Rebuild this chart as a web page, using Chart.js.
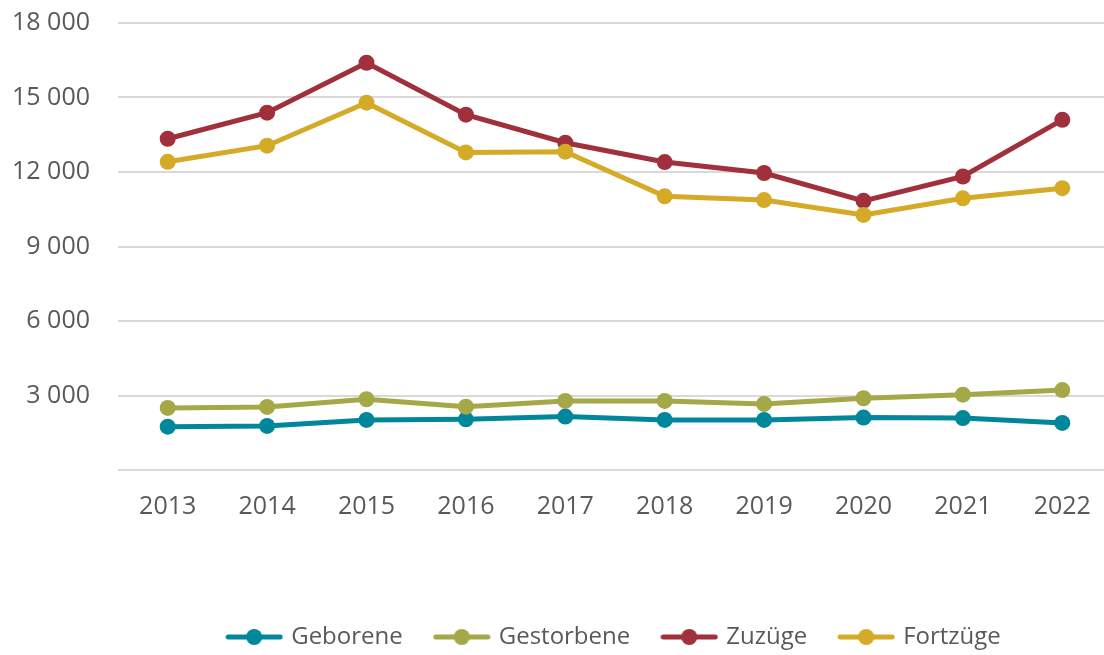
<!DOCTYPE html>
<html><head><meta charset="utf-8">
<script src="https://cdn.jsdelivr.net/npm/chart.js@4"></script>
<style>
html,body{margin:0;padding:0;background:#fff;overflow:hidden;width:1104px;height:655px;}
#wrap{width:1104px;height:655px;position:relative;overflow:hidden;}
</style></head>
<body><div id="wrap"><canvas id="c" width="1112" height="655"></canvas></div>
<script>
const years = ['2013','2014','2015','2016','2017','2018','2019','2020','2021','2022'];
const geborene   = [1745, 1775, 2015, 2040, 2150, 2015, 2015, 2110, 2090, 1895];
const gestorbene = [2500, 2540, 2850, 2550, 2780, 2780, 2660, 2890, 3035, 3220];
const zuzuege    = [13340, 14390, 16400, 14310, 13180, 12400, 11960, 10840, 11820, 14100];
const fortzuege  = [12410, 13060, 14790, 12790, 12820, 11020, 10870, 10270, 10940, 11350];
const yTicks = [0, 3000, 6000, 9000, 12000, 15000, 18000];

const colors = ['#00879C', '#A5A846', '#A0313C', '#D4AA26'];
function legendIcon(color){
  const c = document.createElement('canvas');
  c.width = 58; c.height = 18;
  const x = c.getContext('2d');
  x.strokeStyle = color; x.lineWidth = 5; x.lineCap = 'round';
  x.beginPath(); x.moveTo(3, 9); x.lineTo(55, 9); x.stroke();
  x.fillStyle = color; x.beginPath(); x.arc(29, 9, 8, 0, Math.PI*2); x.fill();
  return c;
}
const fmt = v => String(v).replace(/\B(?=(\d{3})+(?!\d))/g, ' ');
function ds(label, data, color, order){
  return {label, data, borderColor: color, backgroundColor: color,
    borderWidth: 5, pointRadius: 8, pointHoverRadius: 8, pointBorderWidth: 0,
    pointBackgroundColor: color, tension: 0, order,
    pointStyle: 'circle', legendIcon: legendIcon(color)};
}
const FONT = "'Open Sans', sans-serif";
new Chart(document.getElementById('c'), {
  type: 'line',
  data: {
    labels: years,
    datasets: [
      ds('Geborene', geborene, colors[0], 4),
      ds('Gestorbene', gestorbene, colors[1], 3),
      ds('Zuzüge', zuzuege, colors[2], 2),
      ds('Fortzüge', fortzuege, colors[3], 1)
    ]
  },
  options: {
    responsive: false,
    animation: false,
    layout: {autoPadding: false, padding: {top: 23, left: 0, right: 0, bottom: -4}},
    plugins: {
      tooltip: {enabled: false},
      legend: {
        position: 'bottom',
        fullSize: false,
        labels: {
          usePointStyle: true,
          pointStyleWidth: 50,
          boxHeight: 18,
          padding: 34,
          color: '#595959',
          font: {family: FONT, size: 24},
          sort: (a, b) => a.datasetIndex - b.datasetIndex,
          generateLabels: (chart) => chart.data.datasets.map((d, i) => ({
            text: d.label, pointStyle: d.legendIcon, datasetIndex: i,
            fillStyle: d.borderColor, strokeStyle: d.borderColor, lineWidth: 0,
            fontColor: '#595959', hidden: false
          }))
        }
      }
    },
    scales: {
      x: {
        offset: true,
        grid: {display: false, drawTicks: false},
        border: {display: false},
        afterFit: (axis) => { axis.height = axis.height + 47; axis.paddingLeft = 0; axis.paddingRight = 0; axis.paddingBottom = 0; },
        ticks: {color: '#595959', font: {family: FONT, size: 25}, padding: 22, maxRotation: 0}
      },
      y: {
        min: 0, max: 18000,
        afterBuildTicks: (axis) => { axis.ticks = yTicks.map(v => ({value: v})); },
        afterFit: (axis) => { axis.width = 118; axis.paddingTop = 0; axis.paddingBottom = 0; },
        grid: {color: '#D9D9D9', lineWidth: 2, drawTicks: false},
        border: {display: false},
        ticks: {color: '#595959', font: {family: FONT, size: 25}, padding: 28,
          callback: (v) => v === 0 ? '' : fmt(v)}
      }
    }
  }
});
</script></body></html>
